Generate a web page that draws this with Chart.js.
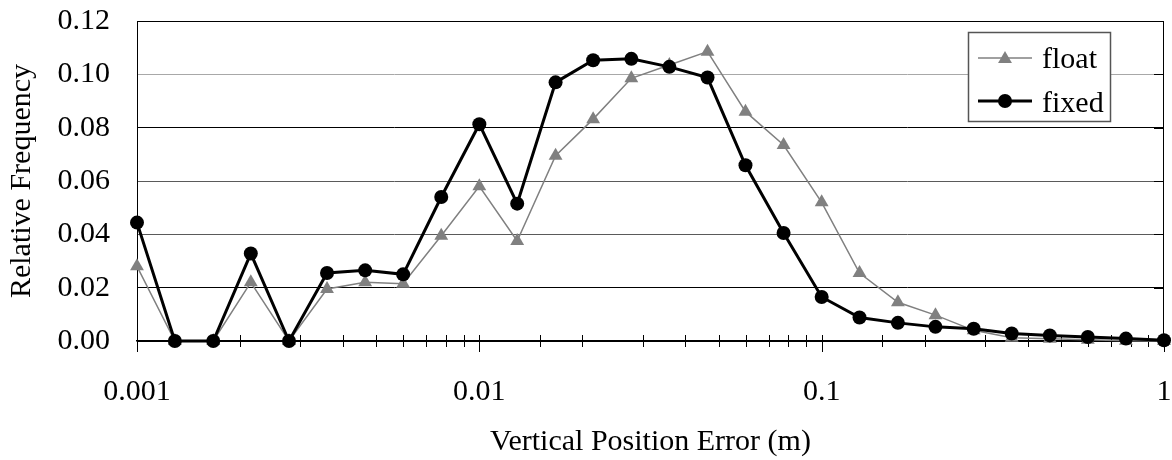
<!DOCTYPE html>
<html>
<head>
<meta charset="utf-8">
<script src="https://cdn.jsdelivr.net/npm/chart.js@4.4.0/dist/chart.umd.js"></script>
<style>
  html, body { margin: 0; padding: 0; background: #fff; }
  #wrap { width: 1172px; height: 460px; }
</style>
</head>
<body>
<div id="wrap"><canvas id="c" width="1172" height="460"></canvas></div>
<script>
// bin centres (m), 9 bins per decade
const errors = [0.001, 0.00129, 0.00167, 0.00215, 0.00278, 0.00359, 0.00464, 0.00599, 0.00774,
  0.01, 0.0129, 0.0167, 0.0215, 0.0278, 0.0359, 0.0464, 0.0599, 0.0774,
  0.1, 0.129, 0.167, 0.215, 0.278, 0.359, 0.464, 0.599, 0.774, 1];
const floatFreq = [0.028, 0, 0, 0.022, 0, 0.0195, 0.022, 0.0215, 0.0395, 0.058, 0.0375, 0.0695,
  0.0832, 0.0985, 0.1035, 0.1085, 0.086, 0.0735, 0.052, 0.0255, 0.0145, 0.0097, 0.004,
  0.0012, 0.0008, 0.0005, 0.0001, 0];
const fixedFreq = [0.0444, 0, 0, 0.0328, 0, 0.0255, 0.0265, 0.025, 0.054, 0.0813, 0.0515, 0.097,
  0.1053, 0.1058, 0.1028, 0.0988, 0.0659, 0.0405, 0.0165, 0.0088, 0.0068, 0.0053, 0.0046,
  0.0028, 0.0021, 0.0015, 0.0009, 0.0003];
const yTicks = [0, 0.02, 0.04, 0.06, 0.08, 0.10, 0.12];
const xMajor = [0.001, 0.01, 0.1, 1];
const xMajorLabels = ['0.001', '0.01', '0.1', '1'];
const seriesNames = ['float', 'fixed'];

const SERIF = "'Liberation Serif', 'Times New Roman', serif";
const FLOAT_COLOR = '#808080';
const FIXED_COLOR = '#000000';

function majorIndex(v) {
  return xMajor.findIndex((m) => Math.abs(v - m) / m < 1e-6);
}

function gridColor(v) {
  if (Math.abs(v - 0.10) < 1e-6) return '#a8a8a8';
  if (Math.abs(v - 0.06) < 1e-6 || Math.abs(v - 0.04) < 1e-6) return '#5a5a5a';
  return '#000';
}

function triangle(ctx, x, y, r) {
  ctx.beginPath();
  ctx.moveTo(x, y - r);
  ctx.lineTo(x + r * Math.sin(Math.PI / 3), y + r / 2);
  ctx.lineTo(x - r * Math.sin(Math.PI / 3), y + r / 2);
  ctx.closePath();
  ctx.fill();
}

// frame, crossing x ticks, right-side ticks
const frame = {
  id: 'frame',
  beforeDatasetsDraw(chart) {
    const { ctx, chartArea: a, scales: { x, y } } = chart;
    ctx.save();
    ctx.strokeStyle = '#000';
    ctx.lineWidth = 1;
    ctx.beginPath();
    for (const t of x.ticks) {
      const px = Math.round(x.getPixelForValue(t.value)) + 0.5;
      const major = majorIndex(t.value) >= 0;
      ctx.moveTo(px, a.bottom - 6);
      ctx.lineTo(px, a.bottom + (major ? 11 : 6));
    }
    for (const v of yTicks) {
      const py = Math.round(y.getPixelForValue(v)) + 0.5;
      ctx.moveTo(a.right - 10, py);
      ctx.lineTo(a.right, py);
    }
    ctx.stroke();
    ctx.strokeRect(Math.round(a.left) + 0.5, Math.round(a.top) + 0.5,
      Math.round(a.width) - 1, Math.round(a.height));
    ctx.restore();
  },
  afterDatasetsDraw(chart) {
    const { ctx } = chart;
    const bx = 968, by = 32, bw = 142, bh = 89;
    ctx.save();
    ctx.fillStyle = '#fff';
    ctx.fillRect(bx, by, bw, bh);
    ctx.strokeStyle = '#555';
    ctx.lineWidth = 1.5;
    ctx.strokeRect(bx + 0.5, by + 0.5, bw, bh);

    const rows = [58, 101];
    // float
    ctx.strokeStyle = FLOAT_COLOR;
    ctx.lineWidth = 1.5;
    ctx.beginPath();
    ctx.moveTo(978, rows[0]); ctx.lineTo(1032, rows[0]);
    ctx.stroke();
    ctx.fillStyle = FLOAT_COLOR;
    triangle(ctx, 1005, rows[0] + 1, 8);
    // fixed
    ctx.strokeStyle = FIXED_COLOR;
    ctx.lineWidth = 3;
    ctx.beginPath();
    ctx.moveTo(978, rows[1]); ctx.lineTo(1032, rows[1]);
    ctx.stroke();
    ctx.fillStyle = FIXED_COLOR;
    ctx.beginPath();
    ctx.arc(1005, rows[1], 7, 0, Math.PI * 2);
    ctx.fill();

    ctx.fillStyle = '#000';
    ctx.font = `30px ${SERIF}`;
    ctx.textBaseline = 'alphabetic';
    ctx.textAlign = 'left';
    ctx.fillText(seriesNames[0], 1042, 68);
    ctx.fillText(seriesNames[1], 1042, 112);
    ctx.restore();
  }
};

new Chart(document.getElementById('c'), {
  type: 'line',
  data: {
    datasets: [
      {
        label: seriesNames[0],
        data: errors.map((e, i) => ({ x: e, y: floatFreq[i] })),
        borderColor: FLOAT_COLOR,
        backgroundColor: FLOAT_COLOR,
        borderWidth: 1.5,
        pointStyle: 'triangle',
        pointRadius: 8,
        pointBorderWidth: 0,
        pointBackgroundColor: FLOAT_COLOR,
        tension: 0,
        clip: false,
        order: 1
      },
      {
        label: seriesNames[1],
        data: errors.map((e, i) => ({ x: e, y: fixedFreq[i] })),
        borderColor: FIXED_COLOR,
        backgroundColor: FIXED_COLOR,
        borderWidth: 3,
        pointStyle: 'circle',
        pointRadius: 7,
        pointBorderWidth: 0,
        pointBackgroundColor: FIXED_COLOR,
        tension: 0,
        clip: false,
        order: 0
      }
    ]
  },
  options: {
    responsive: false,
    animation: false,
    layout: { padding: { top: 21, right: 4, left: 0, bottom: 0 } },
    plugins: { legend: { display: false }, tooltip: { enabled: false } },
    scales: {
      x: {
        type: 'logarithmic',
        min: 0.001,
        max: 1,
        afterFit(s) { s.height = 119; s.paddingRight = 0; s.paddingLeft = 0; },
        border: { display: true, color: '#000', width: 1.5 },
        grid: { drawOnChartArea: false, drawTicks: false },
        ticks: {
          autoSkip: false,
          maxRotation: 0,
          minRotation: 0,
          padding: 33,
          color: '#000',
          font: { family: SERIF, size: 30 },
          callback: (v) => {
            const i = majorIndex(v);
            return i >= 0 ? xMajorLabels[i] : '';
          }
        },
        title: {
          display: true,
          text: 'Vertical Position Error (m)',
          color: '#000',
          font: { family: SERIF, size: 30, lineHeight: 1.2 },
          padding: 0
        }
      },
      y: {
        min: 0,
        max: 0.12,
        afterFit(s) { s.width = 137; s.paddingTop = 0; s.paddingBottom = 0; },
        afterBuildTicks(s) { s.ticks = yTicks.map((v) => ({ value: v })); },
        border: { display: true, color: '#000', width: 1 },
        grid: {
          drawTicks: false,
          color: (c) => gridColor(c.tick ? c.tick.value : 0),
          lineWidth: 1
        },
        ticks: {
          padding: 27,
          color: '#000',
          font: { family: SERIF, size: 30 },
          callback: (v) => Number(v).toFixed(2)
        },
        title: {
          display: true,
          text: 'Relative Frequency',
          color: '#000',
          font: { family: SERIF, size: 30, lineHeight: 1.2 },
          padding: { top: 4, bottom: 0 }
        }
      }
    }
  },
  plugins: [frame]
});
</script>
</body>
</html>
